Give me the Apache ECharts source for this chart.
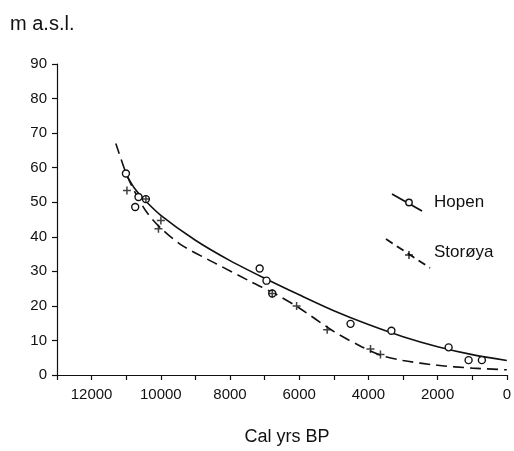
<!DOCTYPE html>
<html>
<head>
<meta charset="utf-8">
<script src="https://cdn.jsdelivr.net/npm/echarts@6/dist/echarts.min.js"></script>
<style>
html,body{margin:0;padding:0;background:#fff;}
#chart{width:514px;height:451px;}
</style>
</head>
<body>
<div id="chart"></div>
<script>
// ---- data (Cal yrs BP, m a.s.l.) ----
const hopenAge  = [11008, 10645, 10431, 10740, 7143, 6946, 6779, 4517, 3335, 1682, 1105, 721];
const hopenElev = [58.3, 51.5, 50.9, 48.6, 30.8, 27.3, 23.6, 14.8, 12.8, 8.0, 4.3, 4.3];

const storoyaAge  = [10979, 10431, 9998, 10068, 6779, 6075, 5192, 3940, 3652];
const storoyaElev = [53.4, 50.9, 44.7, 42.3, 23.6, 20.0, 13.1, 7.5, 5.9];

const hopenCurveAge  = [11000, 10750, 10500, 10000, 9000, 8000, 7000, 6000, 5000, 4000, 3000, 2000, 1000, 0];
const hopenCurveElev = [58.0, 53.9, 51.0, 46.2, 39.0, 33.1, 28.0, 23.2, 18.6, 14.6, 11.1, 8.2, 5.9, 4.2];

const storoyaCurveAge  = [11300, 11000, 10700, 10400, 10000, 9400, 8400, 7400, 6700, 6000, 5000, 4200, 3600, 3000, 2000, 1000, 0];
const storoyaCurveElev = [67.0, 58.3, 52.0, 47.0, 42.5, 37.6, 32.2, 27.0, 23.5, 19.4, 12.6, 8.2, 5.6, 4.2, 2.8, 2.0, 1.5];

const seriesNames = ['Hopen', 'Storøya'];
const yAxisTitle = 'm a.s.l.';
const xAxisTitle = 'Cal yrs BP';

const zip = (a, b) => a.map((v, i) => [v, b[i]]);
const INK = '#111';
const FONT = '"Liberation Sans", Arial, Helvetica, sans-serif';

const chart = echarts.init(document.getElementById('chart'), null, {renderer: 'canvas'});
chart.setOption({
  animation: false,
  backgroundColor: '#fff',
  title: {
    text: yAxisTitle, left: 5, top: 9,
    textStyle: {fontFamily: FONT, fontSize: 20, fontWeight: 'normal', color: INK}
  },
  grid: {left: 57, right: 6, top: 64, bottom: 68.5, containLabel: false},
  xAxis: {
    type: 'value', inverse: true, min: 0, max: 13000, interval: 1000,
    name: xAxisTitle, nameLocation: 'middle', nameGap: 53,
    nameTextStyle: {fontFamily: FONT, fontSize: 18, color: INK, padding: [0, 0, 0, 10]},
    axisLine: {show: true, onZero: false, lineStyle: {color: INK, width: 1.2}},
    axisTick: {show: true, length: 5, lineStyle: {color: INK, width: 1.2}},
    axisLabel: {
      margin: 12, fontFamily: FONT, fontSize: 15, color: INK,
      showMinLabel: true, showMaxLabel: true, hideOverlap: false,
      formatter: v => (v % 2000 === 0 ? String(v) : '')
    },
    splitLine: {show: false}
  },
  yAxis: {
    type: 'value', position: 'left', min: 0, max: 90, interval: 10,
    axisLine: {show: true, onZero: false, lineStyle: {color: INK, width: 1.2}},
    axisTick: {show: true, length: 5, lineStyle: {color: INK, width: 1.2}},
    axisLabel: {margin: 10, fontFamily: FONT, fontSize: 15, color: INK},
    splitLine: {show: false}
  },
  series: [
    {
      name: seriesNames[0], type: 'line', smooth: 0.3, symbol: 'none',
      data: zip(hopenCurveAge, hopenCurveElev),
      lineStyle: {color: INK, width: 1.6}, z: 2
    },
    {
      name: seriesNames[1], type: 'line', smooth: 0.3, symbol: 'none',
      data: zip(storoyaCurveAge, storoyaCurveElev),
      lineStyle: {color: INK, width: 1.6, type: [11, 6]}, z: 2
    },
    {
      name: seriesNames[0] + ' samples', type: 'scatter', symbol: 'circle', symbolSize: 7,
      data: zip(hopenAge, hopenElev),
      itemStyle: {color: '#fff', borderColor: INK, borderWidth: 1.4, opacity: 1}, z: 4
    },
    {
      name: seriesNames[1] + ' samples', type: 'scatter',
      symbol: 'path://M5,0L5,10M0,5L10,5', symbolSize: 8,
      data: zip(storoyaAge, storoyaElev),
      itemStyle: {color: 'none', borderColor: INK, borderWidth: 1.5}, z: 5
    }
  ],
  graphic: [
    {type: 'line', shape: {x1: 392, y1: 194, x2: 422, y2: 211}, style: {stroke: INK, lineWidth: 1.8}},
    {type: 'circle', shape: {cx: 409, cy: 202.5, r: 3.2}, style: {fill: '#fff', stroke: INK, lineWidth: 1.4}},
    {type: 'text', x: 434, y: 202, style: {text: seriesNames[0], font: '17px ' + FONT, fill: INK, verticalAlign: 'middle'}},
    {type: 'line', shape: {x1: 386, y1: 239, x2: 430, y2: 268}, style: {stroke: INK, lineWidth: 1.8, lineDash: [8, 5]}},
    {type: 'line', shape: {x1: 409, y1: 251, x2: 409, y2: 259}, style: {stroke: INK, lineWidth: 1.3}},
    {type: 'line', shape: {x1: 405, y1: 255, x2: 413, y2: 255}, style: {stroke: INK, lineWidth: 1.3}},
    {type: 'text', x: 434, y: 252, style: {text: seriesNames[1], font: '17px ' + FONT, fill: INK, verticalAlign: 'middle'}}
  ]
});
</script>
</body>
</html>
